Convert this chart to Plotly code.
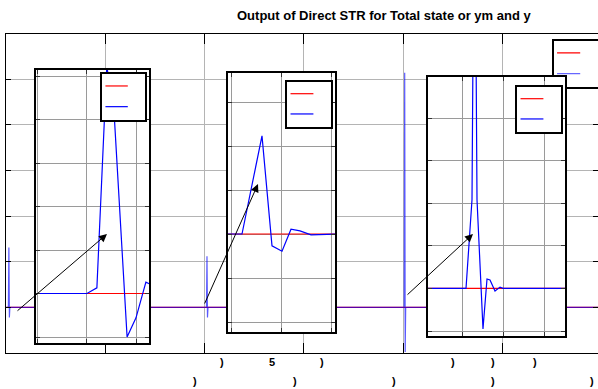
import plotly.graph_objects as go

W, H = 598, 389

# ---------------- data ----------------
# main axes: y (blue) and ym (red)
main_t = [0, 0.022, 0.027, 0.032, 0.037, 2.018, 2.023, 2.028, 2.033, 4.010, 4.015, 4.020, 4.025, 6.0]
main_y = [0, 0, 1.31, -0.22, 0, 0, 1.12, -0.22, 0, 0, 5.14, -0.98, 0, 0]
main_ym_t = [0, 6.0]
main_ym = [0, 0]

# inset 1
in1_t = [-0.1, 1.01, 1.21, 1.41, 1.56, 1.82, 2.0, 2.2, 2.28, 2.34]
in1_y = [1.0, 1.0, 1.13, 6.23, 5.10, 0.0, 0.44, 1.26, 1.22, 1.2]
in1_ym_t = [-0.1, 2.4]
in1_ym = [1.0, 1.0]

# inset 2
in2_t = [-0.1, 0.22, 0.62, 0.82, 1.02, 1.2, 1.38, 1.6, 2.1]
in2_y = [2.0, 2.0, 4.23, 1.73, 1.61, 2.11, 2.07, 1.98, 2.0]
in2_ym_t = [-0.1, 2.1]
in2_ym = [2.0, 2.0]

# inset 3
in3_t = [-0.9, 0.098, 0.244, 0.305, 0.366, 0.512, 0.61, 0.683, 0.805, 0.927, 1.0, 2.6]
in3_y = [1.0, 1.0, 3.08, 12.0, 3.08, 0.05, 1.22, 1.2, 0.94, 1.03, 1.0, 1.0]
in3_ym_t = [-0.9, 2.6]
in3_ym = [1.0, 1.0]

# legend sample lines (no text)
leg_x = [0.08, 0.6]
leg_red = [0.74, 0.74]
leg_blue = [0.29, 0.29]

title_text = "Output of Direct STR for Total state or ym and y"
tick_row1 = [")", "5", ")", ")", ")", ")"]
tick_row2 = [")", ")", ")", ")", ")"]

RED = "#ff0000"
BLUE = "#0000ff"

fig = go.Figure()


def dom_x(a, b):
    return [a / W, min(b / W, 1.0)]


def dom_y(top, bottom):
    return [1 - bottom / H, 1 - top / H]


layout = dict(
    width=W, height=H,
    margin=dict(l=0, r=0, t=0, b=0),
    paper_bgcolor="white", plot_bgcolor="white",
    showlegend=False,
)


def add_axes(n, xdom, ydom, xr, yr, kind):
    xk = "xaxis" if n == 1 else f"xaxis{n}"
    yk = "yaxis" if n == 1 else f"yaxis{n}"
    xid = "x" if n == 1 else f"x{n}"
    yid = "y" if n == 1 else f"y{n}"
    if kind == "main":
        common = dict(showgrid=True, gridcolor="#b4b4b4", gridwidth=1.4,
                      showline=True, linecolor="black", linewidth=1.3,
                      mirror="ticks", ticks="inside", tickcolor="black",
                      tickwidth=1.2, showticklabels=False, zeroline=False,
                      tick0=0, dtick=1)
        layout[xk] = dict(domain=xdom, range=xr, anchor=yid, ticklen=10, **common)
        layout[yk] = dict(domain=ydom, range=yr, anchor=xid, ticklen=5, **common)
    elif kind == "inset":
        common = dict(showgrid=True, gridcolor="#9a9a9a", gridwidth=1,
                      showline=True, linecolor="black", linewidth=2.2,
                      mirror="ticks", ticks="inside", tickcolor="#333333",
                      tickwidth=1, ticklen=4, showticklabels=False,
                      zeroline=False, tick0=0, dtick=1)
        layout[xk] = dict(domain=xdom, range=xr, anchor=yid, **common)
        layout[yk] = dict(domain=ydom, range=yr, anchor=xid, **common)
    else:  # legend box
        common = dict(showgrid=False, showline=True, linecolor="black",
                      linewidth=1.6, ticks="", showticklabels=False,
                      zeroline=False, fixedrange=True)
        layout[xk] = dict(domain=xdom, range=[0, 1], anchor=yid, mirror=True, **common)
        layout[yk] = dict(domain=ydom, range=[0, 1], anchor=xid,
                          mirror=(kind != "legend_open"), **common)
    return xid, yid


def add_lines(xid, yid, t_red, v_red, t_blue, v_blue, blue_color=BLUE):
    fig.add_trace(go.Scatter(x=t_red, y=v_red, mode="lines", xaxis=xid, yaxis=yid,
                             line=dict(color=RED, width=1.2), hoverinfo="skip"))
    fig.add_trace(go.Scatter(x=t_blue, y=v_blue, mode="lines", xaxis=xid, yaxis=yid,
                             line=dict(color=blue_color, width=1.2), hoverinfo="skip"))


# 1: main axes
ox, unit = 6.2, 99.25
xid, yid = add_axes(1, dom_x(ox, W), dom_y(33.5, 353),
                    [0, (W - ox) / unit], [-1, 6], "main")
add_lines(xid, yid, main_ym_t, main_ym, main_t, main_y, blue_color="rgba(0,0,255,0.65)")

# 2: main legend (partly hidden by inset 3)
xid, yid = add_axes(2, dom_x(553.5, W), dom_y(41, 87), None, None, "legend_open")
add_lines(xid, yid, leg_x, leg_red, leg_x, leg_blue, blue_color="rgba(0,0,255,0.6)")

# 3: inset 1
xid, yid = add_axes(3, dom_x(35.5, 149), dom_y(70, 343),
                    [(35.5 - 37) / 49.5, (149 - 37) / 49.5],
                    [(337 - 343) / 43.5, (337 - 70) / 43.5], "inset")
add_lines(xid, yid, in1_ym_t, in1_ym, in1_t, in1_y)

# 4: legend 1
xid, yid = add_axes(4, dom_x(102, 145), dom_y(74, 120), None, None, "legend")
add_lines(xid, yid, leg_x, leg_red, leg_x, leg_blue)

# 5: inset 2
xid, yid = add_axes(5, dom_x(228, 335), dom_y(73, 332),
                    [(228 - 231) / 50, (335 - 231) / 50],
                    [(322 - 332) / 44, (322 - 73) / 44], "inset")
add_lines(xid, yid, in2_ym_t, in2_ym, in2_t, in2_y)

# 6: legend 2
xid, yid = add_axes(6, dom_x(287, 331), dom_y(82, 127), None, None, "legend")
add_lines(xid, yid, leg_x, leg_red, leg_x, leg_blue)

# 7: inset 3
xid, yid = add_axes(7, dom_x(428, 565), dom_y(77, 336),
                    [(428 - 462) / 41, (565 - 462) / 41],
                    [(331 - 336) / 42.6, (331 - 77) / 42.6], "inset")
add_lines(xid, yid, in3_ym_t, in3_ym, in3_t, in3_y)

# 8: legend 3
xid, yid = add_axes(8, dom_x(517, 561), dom_y(87, 132), None, None, "legend")
add_lines(xid, yid, leg_x, leg_red, leg_x, leg_blue)

annotations = []
# title
annotations.append(dict(text="<b>" + title_text + "</b>", x=384 / W, y=1 - 16 / H,
                        xref="paper", yref="paper", showarrow=False,
                        xanchor="center", yanchor="middle",
                        font=dict(family="Liberation Sans, Arial, sans-serif",
                                  size=13, color="black")))

# clipped tick-label fragments
row1_px = [222, 272, 322, 453, 493, 535]
row2_px = [195, 295, 394, 493, 592]
for txt, px in zip(tick_row1, row1_px):
    annotations.append(dict(text="<b>" + txt + "</b>", x=px / W, y=1 - 362 / H,
                            xref="paper", yref="paper", showarrow=False,
                            xanchor="center", yanchor="middle",
                            font=dict(family="Liberation Sans, Arial", size=11, color="black")))
for txt, px in zip(tick_row2, row2_px):
    annotations.append(dict(text="<b>" + txt + "</b>", x=px / W, y=1 - 381 / H,
                            xref="paper", yref="paper", showarrow=False,
                            xanchor="center", yanchor="middle",
                            font=dict(family="Liberation Sans, Arial", size=11, color="black")))

# arrows (tail -> head), pixel positions on the page
arrows = [((16, 312), (107, 234)), ((204, 305), (258, 184)), ((406, 296), (473, 234))]
for (tx, ty), (hx, hy) in arrows:
    annotations.append(dict(text="", x=hx / W, y=1 - hy / H, xref="paper", yref="paper",
                            ax=tx - hx, ay=ty - hy, showarrow=True, arrowhead=2,
                            arrowsize=1.6, arrowwidth=1, arrowcolor="black", standoff=0))

layout["annotations"] = annotations
fig.update_layout(**layout)
fig.write_html(
    "out.html",
    config={"displayModeBar": False},
    post_script="document.body.style.margin='0';document.body.style.overflow='hidden';",
)
